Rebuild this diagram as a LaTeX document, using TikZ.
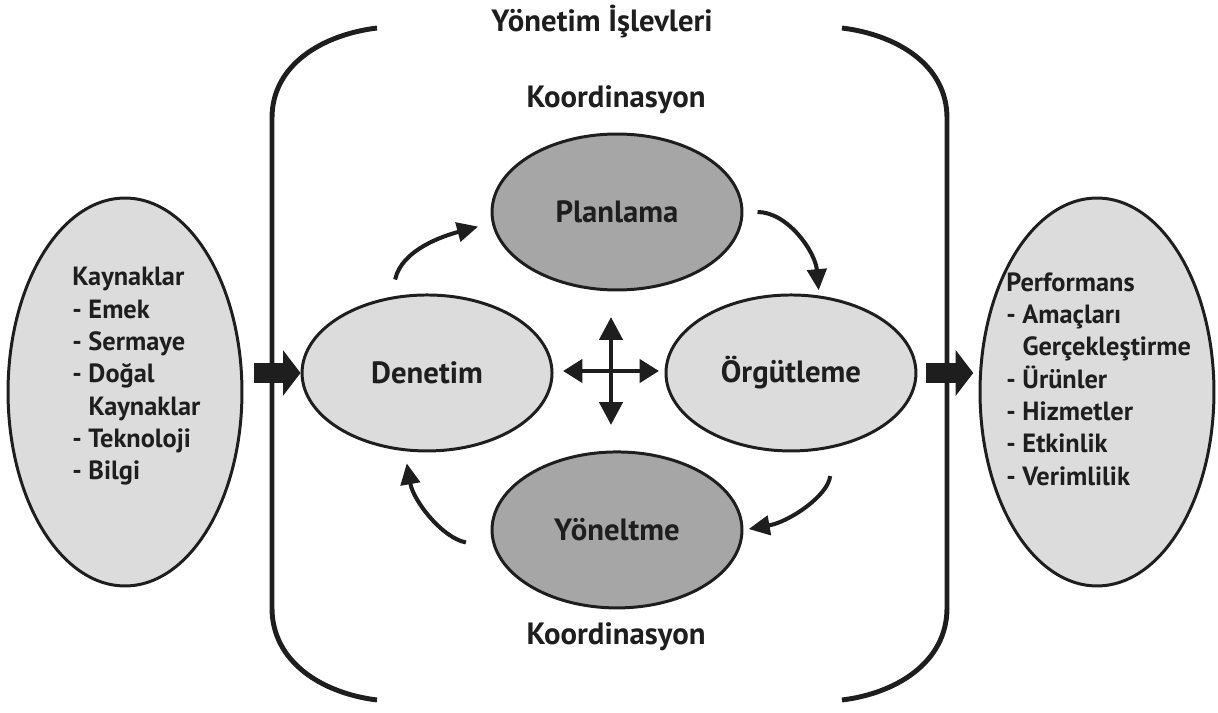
\documentclass[tikz,border=0pt]{standalone}
\usepackage{fontspec}
\setmainfont{PT Sans}
\usetikzlibrary{shapes.geometric, positioning, arrows.meta}

\definecolor{koyugri}{HTML}{A6A6A6}
\definecolor{acikgri}{HTML}{DCDCDC}
\definecolor{cizgi}{HTML}{1E1E1E}
\newcommand{\yazi}{\bfseries\fontsize{15pt}{18.4pt}\selectfont}
\newcommand{\buyukyazi}{\bfseries\fontsize{17.5pt}{21pt}\selectfont}

\begin{document}
\begin{tikzpicture}[x=0.02cm, y=0.02cm, node distance=3cm, on grid,
    islev/.style={ellipse, draw=cizgi, line width=1.7pt, minimum width=5cm,
      minimum height=3.12cm, inner sep=0pt, font=\buyukyazi, text=cizgi},
    koyu/.style={islev, fill=koyugri},
    acik/.style={islev, fill=acikgri},
    kenar/.style={ellipse, draw=cizgi, line width=1.7pt, fill=acikgri,
      minimum width=4.68cm, minimum height=7.76cm, inner sep=0pt},
    liste/.style={align=left, anchor=north west, inner sep=0pt, font=\yazi, text=cizgi},
    baslik/.style={font=\buyukyazi, text=cizgi},
    dongu/.style={draw=cizgi, line width=2.3pt, -{Triangle[length=12pt, width=11pt]}},
    kalin/.style={draw=cizgi, line width=11.3pt, -{Triangle[length=10pt, width=25.5pt]}},
    yayi/.style={draw=cizgi, line width=2.8pt}]
  \useasboundingbox (0,0) rectangle (1218,-713);

  % ayraclar
  \draw[yayi] (377,-28) to[out=187, in=90] (272,-118) -- (272,-608)
    to[out=-90, in=173] (377,-700);
  \draw[yayi] (842,-28) to[out=-7, in=90] (947,-118) -- (947,-608)
    to[out=-90, in=7] (842,-700);

  % yonetim islevleri
  \node[koyu] (planlama) at (617,-212) {Planlama};
  \node[acik] (denetim) [below left=3.22cm and 3.8cm of planlama] {Denetim};
  \node[acik] (orgut) [below right=3.22cm and 3.48cm of planlama] {Örgütleme};
  \node[koyu] (yonel) [below=6.36cm of planlama] {Yöneltme};

  \node[baslik] (baslik) at (602,-22) {Yönetim İşlevleri};
  \node[baslik] (koordust) at (616,-100) {Koordinasyon};
  \node[baslik] (koordalt) at (616,-637) {Koordinasyon};

  % girdi ve cikti
  \node[kenar] (kaynak) at (125,-392) {};
  \node[kenar] (perf) at (1097,-392) {};
  \node[liste] (kaynakmetin) at (72,-267) {Kaynaklar\\- Emek\\- Sermaye\\- Doğal\\
    \hphantom{- }Kaynaklar\\- Teknoloji\\- Bilgi};
  \node[liste] (perfmetin) at (1006,-272) {Performans\\- Amaçları\\
    \hphantom{- }Gerçekleştirme\\- Ürünler\\- Hizmetler\\- Etkinlik\\- Verimlilik};

  \draw[kalin, shorten <=6pt] (kaynak.east |- denetim.west) -- (denetim.west);
  \draw[kalin, shorten <=5pt, shorten >=3pt] (orgut.east) -- (orgut.east -| perf.west);

  % dongu oklari
  \draw[dongu, shorten <=10pt, shorten >=8pt] (denetim.115) to[out=78, in=195] (planlama.185);
  \draw[dongu, shorten <=8pt, shorten >=3pt] (planlama.east) to[out=0, in=95] (orgut.70);
  \draw[dongu, shorten <=16pt, shorten >=3pt] (orgut.-61) to[out=-95, in=10] (yonel.east);
  \draw[dongu, shorten <=16pt, shorten >=7pt] (yonel.188) to[out=170, in=-80] (denetim.254);

  % ortadaki carpi
  \coordinate (merkez) at (611,-371);
  \draw[draw=cizgi, line width=2.6pt, {Triangle[length=11pt, width=13pt]}-{Triangle[length=11pt, width=13pt]}]
    (merkez) ++(-48,0) -- ++(96,0);
  \draw[draw=cizgi, line width=2.6pt, {Triangle[length=13pt, width=13pt]}-{Triangle[length=13pt, width=13pt]}]
    (merkez) ++(0,54) -- ++(0,-108);
\end{tikzpicture}
\end{document}
